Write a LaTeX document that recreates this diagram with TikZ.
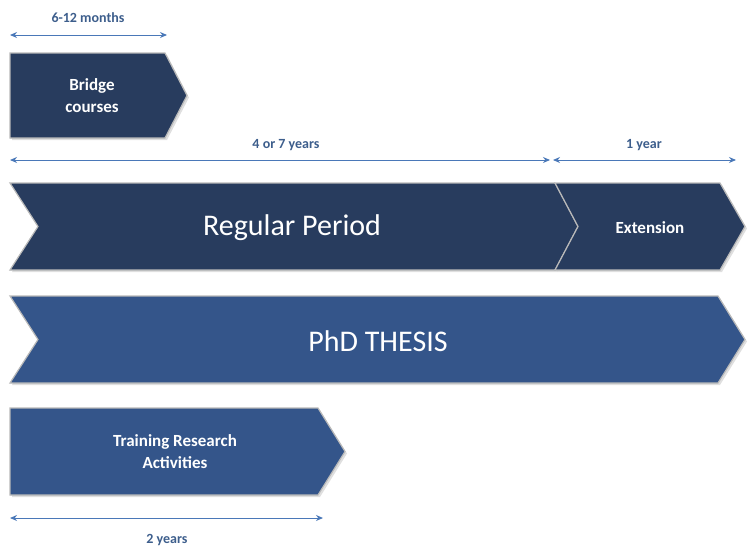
\documentclass[tikz,border=0pt]{standalone}
\usepackage{fontspec}
\setmainfont{Carlito}
\usetikzlibrary{arrows.meta,shadows}
\definecolor{dark}{HTML}{283C5E}
\definecolor{mid}{HTML}{34558A}
\definecolor{lbl}{HTML}{3D5E8C}
\definecolor{arr}{HTML}{4A78B8}
\tikzset{
  shp/.style={draw=gray!55,line width=1.2pt,drop shadow={opacity=0.25,shadow xshift=2pt,shadow yshift=-2pt}},
  dim/.style={draw=arr,line width=1pt,{Stealth[length=7pt,width=6pt]}-{Stealth[length=7pt,width=6pt]}},
  lab/.style={text=lbl,font=\bfseries\fontsize{14}{16}\selectfont},
  wt/.style={text=white,align=center}
}
\begin{document}
\begin{tikzpicture}[x=1pt,y=-1pt]
\useasboundingbox (0,0) rectangle (749,555);
% bridge
\fill[dark,shp] (10,53) -- (165,53) -- (187,95.5) -- (165,138) -- (10,138) -- cycle;
\node[wt,font=\bfseries\fontsize{17}{22}\selectfont] (bridge) at (92,96) {Bridge\\courses};
% regular
\fill[dark,shp] (10,183) -- (555,183) -- (578,226.5) -- (555,270) -- (10,270) -- (38,226.5) -- cycle;
\node[wt,font=\fontsize{30}{34}\selectfont] (reg) at (292,228) {Regular Period};
% extension
\fill[dark,shp] (555,183) -- (720,183) -- (745,226.5) -- (720,270) -- (555,270) -- (578,226.5) -- cycle;
\node[wt,font=\bfseries\fontsize{17}{20}\selectfont] (ext) at (650,228) {Extension};
% thesis
\fill[mid,shp] (10,296) -- (718,296) -- (745,339.5) -- (718,383) -- (10,383) -- (38,339.5) -- cycle;
\node[wt,font=\fontsize{30}{34}\selectfont] (phd) at (378,341) {PhD THESIS};
% training
\fill[mid,shp] (10,408) -- (318,408) -- (345,451.5) -- (318,495) -- (10,495) -- cycle;
\node[wt,font=\bfseries\fontsize{17}{22}\selectfont] (tr) at (175,452) {Training Research\\Activities};
% dimension arrows
\coordinate (a1) at (10,35); \coordinate (a2) at (167,35);
\draw[dim] (a1) -- (a2);
\node[lab] (l1) at (88,18) {6-12 months};
\coordinate (b1) at (10,160); \coordinate (b2) at (550,160);
\draw[dim] (b1) -- (b2);
\node[lab] (l2) at (286,145) {4 or 7 years};
\coordinate (c1) at (553,160); \coordinate (c2) at (736,160);
\draw[dim] (c1) -- (c2);
\node[lab] (l3) at (644,145) {1 year};
\coordinate (d1) at (10,518); \coordinate (d2) at (323,518);
\draw[dim] (d1) -- (d2);
\node[lab] (l4) at (167,540) {2 years};
\end{tikzpicture}
\end{document}
